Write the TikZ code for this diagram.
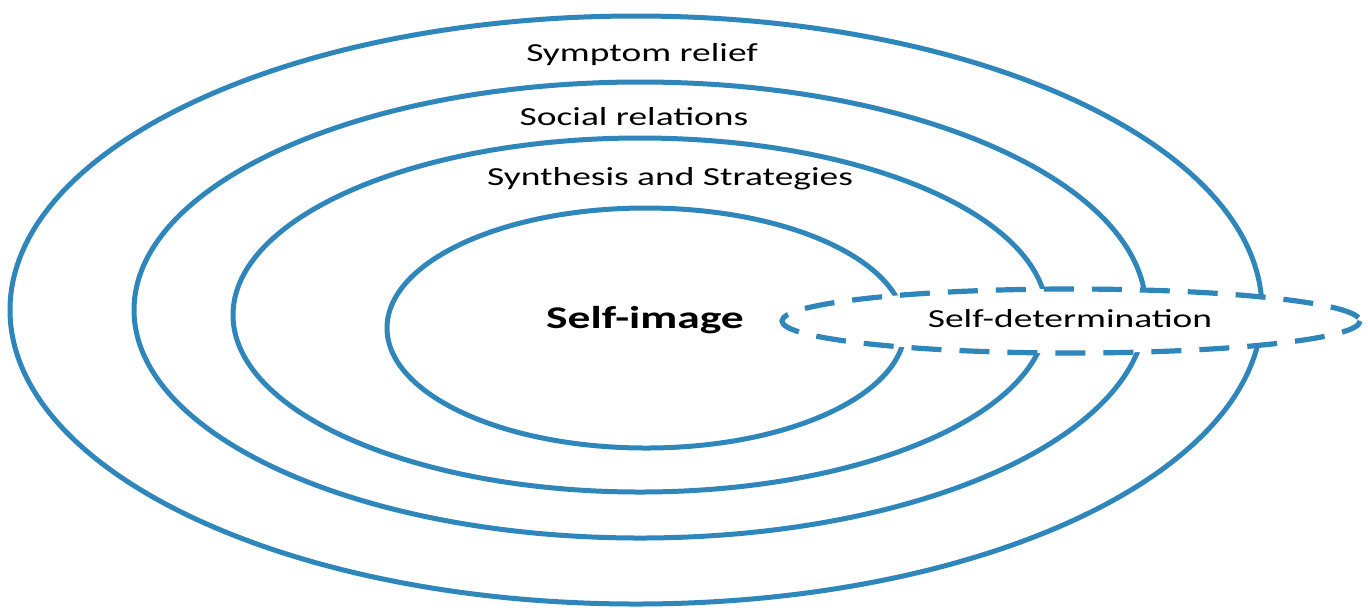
\documentclass[tikz,border=0pt]{standalone}
\usepackage{fontspec}
\setmainfont{Carlito}
\definecolor{ringblue}{RGB}{46,134,187}
\newcommand{\wide}[1]{\scalebox{1.44}[1]{#1}}
\begin{document}
\begin{tikzpicture}[x=0.5pt,y=-0.5pt,
  ring/.style={draw=ringblue,line width=2.5pt},
  dashring/.style={draw=ringblue,line width=2.6pt,fill=white,
    dash pattern=on 15pt off 9pt,dash phase=4pt},
  label/.style={inner sep=0pt,anchor=base,font=\fontsize{13}{15}\selectfont}]
\useasboundingbox[fill=white] (0,0) rectangle (1368,607);

% nested layers
\draw[ring] (636,310) ellipse [x radius=626,y radius=294];
\draw[ring] (640,310) ellipse [x radius=506,y radius=228];
\draw[ring] (640,315) ellipse [x radius=407,y radius=177];
\draw[ring] (646,328) ellipse [x radius=259,y radius=120];

% overlapping dashed region
\draw[dashring] (1071,321) ellipse [x radius=289,y radius=32];

% layer names
\node[label] (symptom) at (642,61) {\wide{Symptom relief}};
\node[label] (social) at (634,125) {\wide{Social relations}};
\node[label] (synth) at (670,185) {\wide{Synthesis and Strategies}};
\node[label,font=\fontsize{15.8}{18}\selectfont\bfseries] (self) at (645,328) {\wide{Self-image}};
\node[label] (determ) at (1070,327) {\wide{Self-determination}};
\end{tikzpicture}
\end{document}
